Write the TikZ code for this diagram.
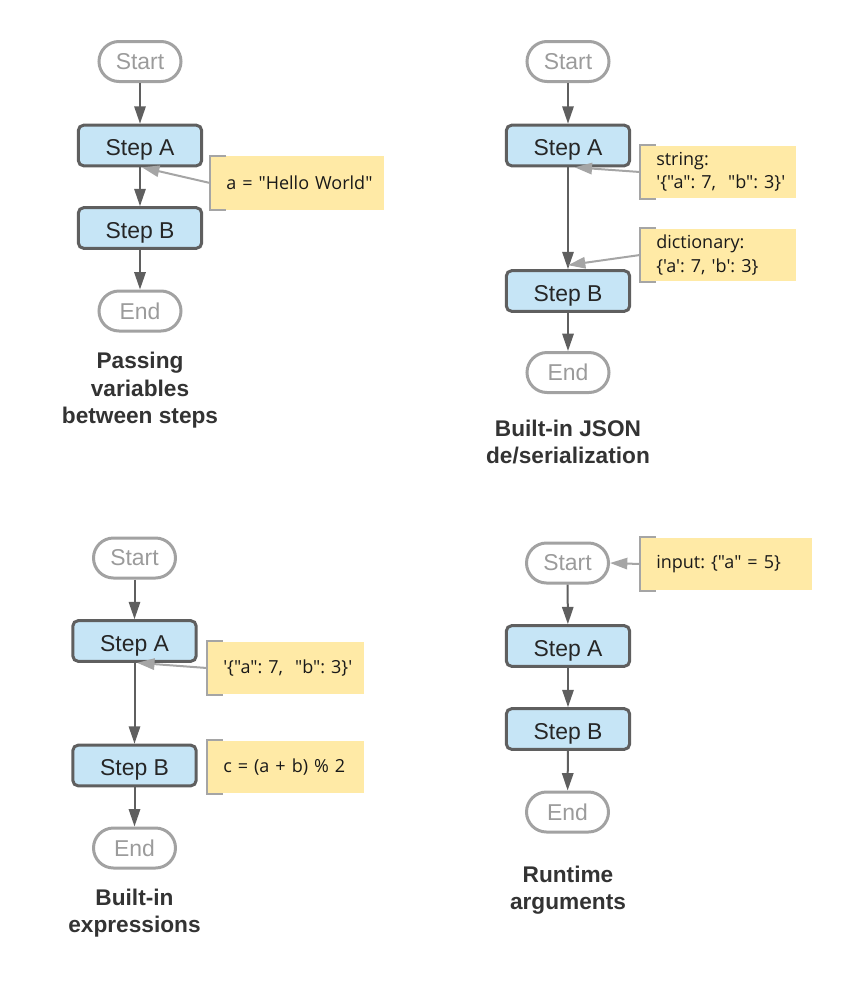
\documentclass[tikz,border=0pt]{standalone}
\usepackage{fontspec}
\setmainfont{Liberation Sans}
\newfontfamily\notefont[Ligatures=TeXOff]{Open Sans}
\usetikzlibrary{arrows.meta}
\definecolor{stepblue}{HTML}{C6E5F6}
\definecolor{stepline}{HTML}{5F5F5F}
\definecolor{termline}{HTML}{A2A2A2}
\definecolor{termtext}{HTML}{9B9B9B}
\definecolor{noteyellow}{HTML}{FFEAA6}
\definecolor{notegray}{HTML}{A5A5A5}
\definecolor{titletext}{HTML}{333333}
\tikzset{
    > = {Triangle[length=13pt, width=8.5pt]},
    stepbox/.style = {draw=stepline, fill=stepblue, line width=2.25pt, rounded corners=4pt,
        minimum width=92.5pt, minimum height=30.5pt, text=black!85,
        text height=15.5pt, text depth=0pt, font=\fontsize{17.2}{20}\selectfont},
    terminal/.style = {draw=termline, line width=2.25pt, rounded corners=15pt,
        minimum width=61.5pt, minimum height=30pt, text=termtext,
        font=\fontsize{17.2}{20}\selectfont},
    note/.style = {fill=noteyellow, anchor=west, align=left, text width=#1, inner xsep=12pt,
        minimum height=39.5pt, text=black!90,
        font=\notefont\fontsize{13.5}{17.5}\selectfont\frenchspacing},
    title/.style = {align=center, text=titletext, font=\bfseries\fontsize{17}{20.6}\selectfont},
    flow/.style = {->, draw=stepline, line width=1.5pt},
    hint/.style = {->, draw=notegray, line width=1.5pt},
    bracket/.style = {draw=notegray, line width=1.5pt}
}
\newcommand{\notebracket}[1]{\draw[bracket] ([xshift=12pt]#1.north west) -| (#1.south west) -- ++(12pt,0);}

\begin{document}
\begin{tikzpicture}[x=0.75pt, y=-0.75pt]
    \useasboundingbox (0,0) rectangle (856,1000);

    % passing variables
    \node[terminal] (S1) at (140,61.5) {Start};
    \node[stepbox] (A1) at (140,145.5) {Step A};
    \node[stepbox] (B1) at (140,228) {Step B};
    \node[terminal] (E1) at (140,311) {End};
    \node[note=106.5pt, minimum height=40.5pt] (N1) at (210,183) {\mbox{a = "Hello World"}};
    \notebracket{N1}
    \node[title] (T1) at (140,390.5) {Passing\\variables\\between steps};

    \draw[flow] (S1) -- (A1);
    \draw[flow] (A1) -- (B1);
    \draw[flow] (B1) -- (E1);
    \draw[hint] (N1.west) -- ([xshift=1.5pt]A1.south);

    % json
    \node[terminal] (S2) at (568,61.5) {Start};
    \node[stepbox] (A2) at (568,145.5) {Step A};
    \node[stepbox] (B2) at (568,291) {Step B};
    \node[terminal] (E2) at (568,372.5) {End};
    \node[note=93pt] (N2) at (640,172) {\mbox{string:}\\\mbox{'\{"a": 7,\ \ "b": 3\}'}};
    \node[note=93pt] (N3) at (640,255) {\mbox{dictionary:}\\\mbox{\{'a': 7, 'b': 3\}}};
    \notebracket{N2}
    \notebracket{N3}
    \node[title] (T2) at (568,442) {Built-in JSON\\de/serialization};

    \draw[flow] (S2) -- (A2);
    \draw[flow] (A2) -- (B2);
    \draw[flow] (B2) -- (E2);
    \draw[hint] (N2.west) -- ([xshift=5pt]A2.south);
    \draw[hint] (N3.west) -- ([yshift=3pt]B2.north);

    % expressions
    \node[terminal] (S3) at (134.5,558) {Start};
    \node[stepbox] (A3) at (134.5,641) {Step A};
    \node[stepbox] (B3) at (134.5,765.5) {Step B};
    \node[terminal] (E3) at (134.5,848) {End};
    \node[note=93.75pt] (N4) at (207,668) {\mbox{'\{"a": 7,\ \ "b": 3\}'}};
    \node[note=93.75pt] (N5) at (207,767) {\mbox{c = (a + b) \% 2}};
    \notebracket{N4}
    \notebracket{N5}
    \node[title] (T3) at (134.5,913) {Built-in\\expressions};

    \draw[flow] (S3) -- (A3);
    \draw[flow] (A3) -- (B3);
    \draw[flow] (B3) -- (E3);
    \draw[hint] (N4.west) -- ([xshift=2pt]A3.south);

    % runtime arguments
    \node[terminal] (S4) at (567.5,563) {Start};
    \node[stepbox] (A4) at (568,646) {Step A};
    \node[stepbox] (B4) at (568,729) {Step B};
    \node[terminal] (E4) at (567.5,812) {End};
    \node[note=105pt] (N6) at (640,564) {\mbox{input: \{"a" = 5\}}};
    \notebracket{N6}
    \node[title] (T4) at (568,890) {Runtime\\arguments};

    \draw[flow] (S4) -- (A4);
    \draw[flow] (A4) -- (B4);
    \draw[flow] (B4) -- (E4);
    \draw[hint] (N6.west) -- (S4.east);
\end{tikzpicture}
\end{document}
